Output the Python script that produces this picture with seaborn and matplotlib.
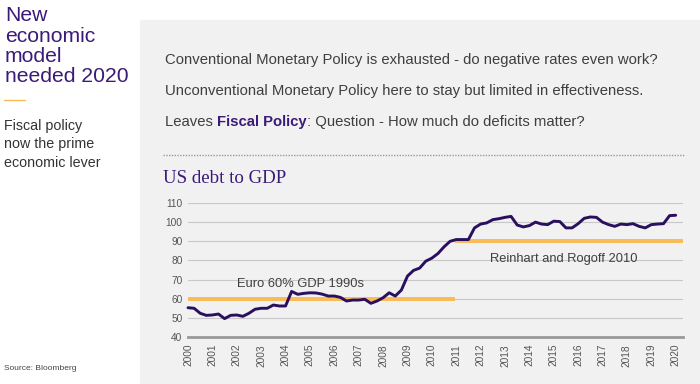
import numpy as np
import pandas as pd
import seaborn as sns
import matplotlib.pyplot as plt
from matplotlib.patches import Rectangle

# quarterly US debt to GDP, 2000 - 2020
quarters = np.arange(81) / 4 + 2000
debt_to_gdp = [
    55.3, 55.0, 52.4, 51.3, 51.5, 52.0, 49.6, 51.3, 51.5, 50.8, 52.4, 54.5,
    55.0, 55.0, 56.7, 56.2, 56.2, 63.8, 62.3, 62.8, 63.1, 63.0, 62.4, 61.4,
    61.4, 60.7, 58.8, 59.3, 59.3, 59.7, 57.6, 58.8, 60.5, 63.1, 61.4, 64.5,
    71.8, 74.8, 76.0, 79.6, 81.2, 83.6, 87.1, 90.0, 90.9, 90.9, 90.9, 97.0,
    99.0, 99.6, 101.3, 101.8, 102.5, 103.0, 98.5, 97.5, 98.2, 100.0, 99.0, 98.7,
    100.5, 100.3, 97.0, 97.0, 99.2, 102.0, 102.7, 102.5, 100.0, 98.7, 97.8, 99.0,
    98.7, 99.2, 97.8, 97.0, 98.7, 99.0, 99.2, 103.4, 103.6,
]
years = list(range(2000, 2021))
y_ticks = [40, 50, 60, 70, 80, 90, 100, 110]

euro_level, euro_span = 60, (2000, 2010.95)
rr_level, rr_span = 90, (2010.95, 2020.3)

purple = "#3b1a78"
line_purple = "#2a0f5e"
gold = "#f8bb55"
grey_txt = "#3f3f3f"

df = pd.DataFrame({"quarter": quarters, "debt": debt_to_gdp})

sns.set_style("white")
plt.rcParams["font.family"] = ["Liberation Sans", "DejaVu Sans"]

fig = plt.figure(figsize=(7, 3.84), dpi=100)
fig.patch.set_facecolor("white")
fig.patches.append(Rectangle((140 / 700, 0), 560 / 700, 364 / 384,
                             transform=fig.transFigure, color="#f1f1f1", zorder=-1))

# left column
fig.text(5 / 700, 1 - 6 / 384, "New\neconomic\nmodel\nneeded 2020", color=purple,
         fontsize=15.2, va="top", ha="left", linespacing=1.1)
fig.add_artist(plt.Line2D([4 / 700, 25 / 700], [1 - 100 / 384] * 2,
                          transform=fig.transFigure, color=gold, lw=1))
fig.text(4 / 700, 1 - 119 / 384, "Fiscal policy\nnow the prime\neconomic lever",
         color="#333333", fontsize=10.3, va="top", ha="left", linespacing=1.4)
fig.text(4 / 700, 1 - 368 / 384, "Source: Bloomberg", color="#444444", fontsize=6,
         va="center", ha="left")

# bullets in grey panel
fs = 10.7
fig.text(165 / 700, 1 - 60 / 384,
         "Conventional Monetary Policy is exhausted - do negative rates even work?",
         color=grey_txt, fontsize=fs, va="center")
fig.text(165 / 700, 1 - 91 / 384,
         "Unconventional Monetary Policy here to stay but limited in effectiveness.",
         color=grey_txt, fontsize=fs, va="center")
t1 = fig.text(165 / 700, 1 - 122 / 384, "Leaves ", color=grey_txt, fontsize=fs, va="center")
fig.canvas.draw()
r = fig.canvas.get_renderer()
bb = t1.get_window_extent(r)
t2 = fig.text(bb.x1 / fig.bbox.width, 1 - 122 / 384, "Fiscal Policy", color=purple,
              fontsize=fs, va="center", fontweight="bold")
bb2 = t2.get_window_extent(r)
fig.text(bb2.x1 / fig.bbox.width, 1 - 122 / 384,
         ": Question - How much do deficits matter?", color=grey_txt, fontsize=fs,
         va="center")
fig.add_artist(plt.Line2D([163 / 700, 685 / 700], [1 - 155 / 384] * 2,
                          transform=fig.transFigure, color="#9a9a9a", lw=1,
                          linestyle=(0, (1, 1))))
fig.text(163 / 700, 1 - 178 / 384, "US debt to GDP", color=purple, fontsize=13.6,
         va="center", family=["Liberation Serif", "DejaVu Serif"])

# chart
ax = fig.add_axes([188 / 700, 47 / 384, 495 / 700, 134 / 384])
ax.set_facecolor("none")
for y in y_ticks[1:]:
    ax.axhline(y, color="#c8c8c8", lw=0.8, zorder=1)
ax.hlines(euro_level, *euro_span, color=gold, lw=2.8, zorder=2)
ax.hlines(rr_level, *rr_span, color=gold, lw=2.8, zorder=2)
sns.lineplot(data=df, x="quarter", y="debt", ax=ax, color=line_purple, lw=2.1,
             zorder=3, clip_on=False)
ax.text(2002.0, 67.5, "Euro 60% GDP 1990s", color=grey_txt, fontsize=9.3, va="center")
ax.text(2012.4, 81, "Reinhart and Rogoff 2010", color=grey_txt, fontsize=9.3,
        va="center")

ax.set_xlim(2000, 2020.3)
ax.set_ylim(40, 110)
ax.set_xticks(years)
ax.set_xticklabels([str(y) for y in years], rotation=90, fontsize=7.3, color="#555555")
ax.set_yticks(y_ticks)
ax.set_yticklabels([str(y) for y in y_ticks], fontsize=7.3, color="#555555")
ax.tick_params(axis="x", length=2, width=1.5, color="#999999", pad=3)
ax.tick_params(axis="y", length=0, pad=4)
ax.set_xlabel("")
ax.set_ylabel("")
for s in ["top", "right", "left"]:
    ax.spines[s].set_visible(False)
ax.spines["bottom"].set_color("#999999")
ax.spines["bottom"].set_linewidth(2)

fig.savefig("out.png", dpi=100)
